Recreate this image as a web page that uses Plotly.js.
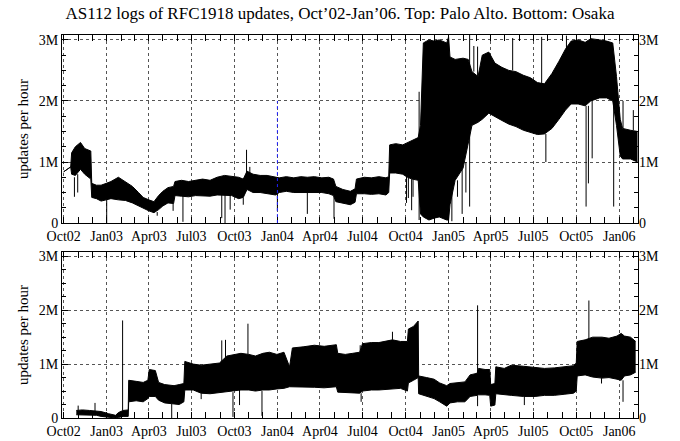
<!DOCTYPE html>
<html>
<head>
<meta charset="utf-8">
<script src="https://cdn.plot.ly/plotly-3.0.1.min.js"></script>
<style>html,body{margin:0;padding:0;background:#fff;}#chart{width:680px;height:441px;}</style>
</head>
<body>
<div id="chart"></div>
<script>
// ---------- Top panel: Palo Alto (values in millions of updates per hour) ----------
var paDates = ["2002-10-01","2002-10-16","2002-10-18","2002-10-26","2002-11-06","2002-11-15","2002-11-28","2002-11-30",
  "2002-12-10","2002-12-20","2002-12-31","2003-01-10","2003-01-26","2003-02-10","2003-02-25","2003-03-10","2003-03-20",
  "2003-04-01","2003-04-12","2003-04-22","2003-05-01","2003-05-12","2003-05-24","2003-05-27","2003-06-10","2003-06-25",
  "2003-07-10","2003-07-25","2003-08-10","2003-08-25","2003-09-10","2003-09-25","2003-10-10","2003-10-20","2003-10-28",
  "2003-11-10","2003-11-25","2003-12-10","2003-12-28","2004-01-05","2004-01-20","2004-02-05","2004-02-20","2004-03-05",
  "2004-03-20","2004-04-05","2004-04-20","2004-04-30","2004-05-05","2004-05-20","2004-06-05","2004-06-15","2004-06-18",
  "2004-07-05","2004-07-20","2004-08-05","2004-08-20","2004-08-26","2004-08-28","2004-09-10","2004-09-25","2004-10-05",
  "2004-10-15","2004-10-28","2004-11-02","2004-11-08","2004-11-20","2004-12-01","2004-12-12","2004-12-28","2005-01-01",
  "2005-01-04","2005-01-15","2005-02-01","2005-02-12","2005-02-20","2005-03-05","2005-03-14","2005-03-28","2005-04-10",
  "2005-04-25","2005-05-10","2005-05-25","2005-06-10","2005-06-25","2005-07-10","2005-07-25","2005-08-10","2005-08-25",
  "2005-09-08","2005-09-20","2005-10-05","2005-10-20","2005-11-01","2005-11-20","2005-12-05","2005-12-18","2005-12-26",
  "2006-01-03","2006-01-08","2006-01-25","2006-02-09"];
var paLow = [0.84,0.92,0.80,0.78,0.88,0.80,0.72,0.42,
  0.40,0.36,0.38,0.40,0.38,0.37,0.33,0.28,0.24,
  0.20,0.17,0.22,0.28,0.33,0.32,0.45,0.44,0.43,
  0.45,0.44,0.44,0.46,0.46,0.45,0.40,0.42,0.55,
  0.50,0.50,0.48,0.46,0.50,0.52,0.50,0.50,0.50,
  0.49,0.50,0.48,0.45,0.35,0.32,0.30,0.34,0.48,
  0.48,0.47,0.48,0.46,0.50,0.82,0.82,0.80,0.75,
  0.72,0.70,0.15,0.10,0.05,0.08,0.10,0.05,0.05,
  0.30,0.70,0.90,1.30,1.60,1.65,1.70,1.80,1.75,
  1.68,1.62,1.58,1.52,1.48,1.45,1.46,1.55,1.70,
  1.85,1.95,1.95,1.92,2.00,2.05,2.05,2.00,1.60,
  1.10,1.05,1.05,1.00];
var paHigh = [0.84,0.92,1.15,1.25,1.32,1.22,1.18,0.65,
  0.62,0.62,0.65,0.68,0.75,0.68,0.60,0.50,0.42,
  0.38,0.35,0.45,0.52,0.58,0.60,0.68,0.70,0.68,
  0.70,0.72,0.70,0.75,0.78,0.76,0.75,0.72,0.85,
  0.80,0.78,0.78,0.76,0.74,0.76,0.74,0.76,0.75,
  0.76,0.74,0.75,0.72,0.60,0.55,0.52,0.56,0.72,
  0.75,0.74,0.76,0.74,0.76,1.28,1.30,1.28,1.32,
  1.35,1.40,1.60,2.95,3.00,2.98,3.00,2.95,3.05,
  2.72,2.68,2.70,2.68,2.48,2.40,2.75,2.80,2.62,
  2.55,2.50,2.48,2.42,2.38,2.30,2.28,2.45,2.65,
  2.85,2.98,3.00,2.96,3.02,3.00,2.98,2.95,2.40,
  1.70,1.55,1.52,1.50];
// isolated spikes (date, band value, spike end)
var paSpikeDates = ["2002-10-24","2002-10-31","2003-01-01","2003-04-19","2003-05-23","2003-06-13","2003-09-04","2003-09-11",
  "2003-09-22","2003-10-20","2003-10-27","2003-11-03","2004-01-01","2004-03-05","2004-05-01","2004-10-03","2004-10-07",
  "2004-10-14","2004-10-17","2004-10-30","2005-01-08","2005-01-20","2005-01-30","2005-02-07","2005-02-15","2005-02-24",
  "2005-03-04","2005-05-18","2005-07-19","2005-07-28","2005-09-10","2005-10-22","2005-10-27","2005-11-04","2005-12-20",
  "2006-01-09","2006-01-31"];
var paSpikeFrom = [0.75,0.80,0.38,0.18,0.32,0.44,0.46,0.46,
  0.45,0.42,0.80,0.80,0.48,0.50,0.45,0.78,0.75,
  0.72,0.72,0.05,0.70,0.70,0.90,1.00,0.27,2.48,
  2.40,2.50,2.28,1.46,2.85,1.92,1.92,2.00,2.00,
  1.55,1.52];
var paSpikeTo = [0.43,0.50,0.00,0.12,0.20,0.02,0.08,0.00,
  0.22,0.30,1.20,0.92,0.20,0.15,0.07,0.33,0.41,
  0.21,0.43,2.15,0.03,0.43,0.15,0.50,3.08,2.90,
  2.89,3.03,3.05,1.00,3.07,0.27,0.65,1.06,0.27,
  2.00,1.85];
// blue dotted marker in top panel
var markerDates = ["2004-01-01"];
var markerTop = [2.0];

// ---------- Bottom panel: Osaka ----------
var osDates = ["2002-10-28","2002-11-10","2002-11-25","2002-12-10","2002-12-20","2003-01-05","2003-01-20","2003-01-26",
  "2003-02-05","2003-02-16","2003-02-17","2003-03-05","2003-03-20","2003-03-30","2003-04-02","2003-04-15","2003-04-22",
  "2003-05-05","2003-05-25","2003-06-05","2003-06-15","2003-06-17","2003-07-05","2003-07-22","2003-08-10","2003-08-30",
  "2003-09-15","2003-10-01","2003-10-15","2003-11-01","2003-11-15","2003-12-01","2003-12-15","2003-12-31","2004-01-15",
  "2004-01-27","2004-02-02","2004-02-25","2004-03-20","2004-04-10","2004-05-06","2004-05-09","2004-05-25","2004-06-10",
  "2004-06-25","2004-07-01","2004-07-20","2004-08-05","2004-08-20","2004-09-03","2004-09-20","2004-10-05","2004-10-07",
  "2004-10-18","2004-10-28","2004-10-29","2004-11-15","2004-12-01","2004-12-13","2004-12-28","2005-01-04","2005-01-20",
  "2005-02-05","2005-02-16","2005-03-03","2005-03-06","2005-03-20","2005-03-30","2005-04-01","2005-04-10","2005-04-12",
  "2005-04-30","2005-05-15","2005-06-10","2005-07-05","2005-07-25","2005-08-15","2005-09-05","2005-09-25","2005-10-01",
  "2005-10-03","2005-10-20","2005-11-05","2005-11-25","2005-12-10","2005-12-27","2006-01-05","2006-01-12","2006-01-25",
  "2006-02-05"];
var osLow = [0.06,0.06,0.05,0.05,0.03,0.01,0.00,0.01,
  0.03,0.03,0.30,0.32,0.30,0.36,0.40,0.40,0.33,
  0.28,0.26,0.25,0.30,0.52,0.52,0.46,0.45,0.47,
  0.48,0.50,0.52,0.52,0.50,0.52,0.52,0.54,0.55,
  0.58,0.58,0.58,0.57,0.56,0.58,0.48,0.47,0.47,
  0.46,0.50,0.52,0.52,0.53,0.55,0.55,0.50,0.65,
  0.70,0.75,0.45,0.40,0.36,0.30,0.22,0.28,0.30,
  0.30,0.40,0.42,0.43,0.43,0.42,0.22,0.24,0.45,
  0.44,0.42,0.40,0.40,0.42,0.42,0.44,0.46,0.50,
  0.78,0.80,0.76,0.74,0.75,0.72,0.70,0.78,0.80,
  0.85];
var osHigh = [0.14,0.15,0.14,0.13,0.12,0.08,0.05,0.10,
  0.14,0.15,0.70,0.68,0.66,0.70,0.90,0.88,0.66,
  0.62,0.60,0.62,0.64,1.05,1.00,0.98,1.00,1.02,
  1.15,1.18,1.20,1.18,1.15,1.20,1.22,1.18,1.22,
  0.95,1.30,1.32,1.35,1.33,1.36,1.20,1.18,1.20,
  1.22,1.38,1.40,1.40,1.42,1.45,1.42,1.42,1.65,
  1.70,1.80,0.78,0.75,0.72,0.65,0.60,0.64,0.66,
  0.67,0.80,0.83,0.92,0.90,0.90,0.62,0.64,0.95,
  0.92,0.98,0.96,0.94,0.92,0.93,0.95,0.97,1.02,
  1.42,1.45,1.50,1.50,1.48,1.52,1.57,1.52,1.50,
  1.42];
var osSpikeDates = ["2002-11-01","2002-12-07","2003-02-04","2003-05-20","2003-07-22","2003-09-04","2003-09-12","2003-09-28",
  "2003-10-12","2003-10-30","2003-11-29","2004-06-26","2004-06-28","2004-09-03","2005-03-04","2005-03-04","2005-06-12",
  "2005-10-28","2005-11-24","2006-01-09"];
var osSpikeFrom = [0.14,0.13,0.14,0.26,0.46,1.02,1.05,0.48,
  0.52,1.18,0.50,1.22,0.46,1.45,0.83,0.42,0.40,
  1.45,0.74,0.70];
var osSpikeTo = [0.23,0.28,1.81,0.00,0.35,1.44,1.45,0.02,
  0.24,1.75,0.04,1.35,0.30,1.60,2.09,0.22,0.24,
  2.18,0.64,0.30];

// ---------- build traces ----------
var M = 1e6;
function scale(a){ return a.map(function(v){ return v*M; }); }
function spikes(d, f, t){
  var x=[], y=[];
  for (var i=0;i<d.length;i++){ x.push(d[i],d[i],null); y.push(f[i]*M,t[i]*M,null); }
  return {x:x,y:y};
}
var black = '#000';
var pS = spikes(paSpikeDates, paSpikeFrom, paSpikeTo);
var oS = spikes(osSpikeDates, osSpikeFrom, osSpikeTo);
var traces = [
  {x:paDates, y:scale(paLow), xaxis:'x', yaxis:'y', mode:'lines', line:{color:black,width:1}, hoverinfo:'skip', showlegend:false},
  {x:paDates, y:scale(paHigh), xaxis:'x', yaxis:'y', mode:'lines', fill:'tonexty', fillcolor:black, line:{color:black,width:1}, hoverinfo:'skip', showlegend:false},
  {x:osDates, y:scale(osLow), xaxis:'x2', yaxis:'y2', mode:'lines', line:{color:black,width:1}, hoverinfo:'skip', showlegend:false},
  {x:osDates, y:scale(osHigh), xaxis:'x2', yaxis:'y2', mode:'lines', fill:'tonexty', fillcolor:black, line:{color:black,width:1}, hoverinfo:'skip', showlegend:false},
  {x:pS.x, y:pS.y, xaxis:'x', yaxis:'y', mode:'lines', line:{color:black,width:1}, hoverinfo:'skip', showlegend:false},
  {x:oS.x, y:oS.y, xaxis:'x2', yaxis:'y2', mode:'lines', line:{color:black,width:1}, hoverinfo:'skip', showlegend:false},
  {x:[paDates[0]], y:[0], xaxis:'x', yaxis:'y3', mode:'markers', marker:{opacity:0}, hoverinfo:'skip', showlegend:false},
  {x:[osDates[0]], y:[0], xaxis:'x2', yaxis:'y4', mode:'markers', marker:{opacity:0}, hoverinfo:'skip', showlegend:false}
];

var FONT = 'Liberation Serif, Times New Roman, serif';
var xRange = ['2002-09-27 10:00', '2006-02-10'];
var yRange = [0, 3.08e6];
function xAxis(anchor){
  return {
    anchor: anchor, type:'date', range:xRange, domain:[0,1],
    tick0:'2002-10-01', dtick:'M3', tickformat:'%b%y',
    ticks:'inside', ticklen:6, tickcolor:black, tickwidth:1,
    minor:{dtick:'M1', ticks:'inside', ticklen:4, tickcolor:black, showgrid:false},
    showgrid:true, gridcolor:'#555', griddash:'dot', gridwidth:1,
    showline:true, linecolor:black, linewidth:1, mirror:'allticks',
    tickfont:{family:FONT, size:14, color:black}, zeroline:false, fixedrange:true
  };
}
function yAxis(anchor, dom){
  return {
    anchor: anchor, domain: dom, range:yRange, tickmode:'linear', tick0:0, dtick:1e6,
    ticks:'inside', ticklen:6, tickcolor:black,
    minor:{tickmode:'linear', tick0:0, dtick:250000, ticks:'inside', ticklen:4, tickcolor:black, showgrid:false},
    showgrid:true, gridcolor:'#555', griddash:'dot', gridwidth:1,
    showline:true, linecolor:black, linewidth:1, mirror:'allticks', zeroline:false,
    tickfont:{family:FONT, size:14, color:black},
    title:{text:'updates per hour', font:{family:FONT, size:15, color:black}, standoff:6},
    fixedrange:true
  };
}
function yRight(over){
  return {
    overlaying: over, side:'right', range:yRange, tickmode:'linear', tick0:0, dtick:1e6,
    ticks:'', showgrid:false, zeroline:false, showline:false,
    tickfont:{family:FONT, size:14, color:black}, fixedrange:true
  };
}
var shapes = markerDates.map(function(d, i){
  return {type:'line', xref:'x', yref:'y', x0:d, x1:d, y0:0, y1:markerTop[i]*M,
          line:{color:'#2020ff', width:1, dash:'dot'}, layer:'above'};
});

var layout = {
  width:680, height:441,
  margin:{l:62, r:42, t:35, b:23, pad:0},
  paper_bgcolor:'#fff', plot_bgcolor:'#fff',
  font:{family:FONT, size:14, color:black},
  title:{text:'AS112 logs of RFC1918 updates, Oct\u201902-Jan\u201906. Top: Palo Alto. Bottom: Osaka',
         font:{family:FONT, size:17, color:black}, x:0.5, xref:'container', xanchor:'center',
         y:1-13/441, yref:'container', yanchor:'middle'},
  xaxis: xAxis('y'),
  yaxis: yAxis('x', [0.509, 1]),
  xaxis2: xAxis('y2'),
  yaxis2: yAxis('x2', [0, 0.4334]),
  yaxis3: yRight('y'),
  yaxis4: yRight('y2'),
  shapes: shapes,
  showlegend:false
};
Plotly.newPlot('chart', traces, layout, {displayModeBar:false, staticPlot:true});
</script>
</body>
</html>
